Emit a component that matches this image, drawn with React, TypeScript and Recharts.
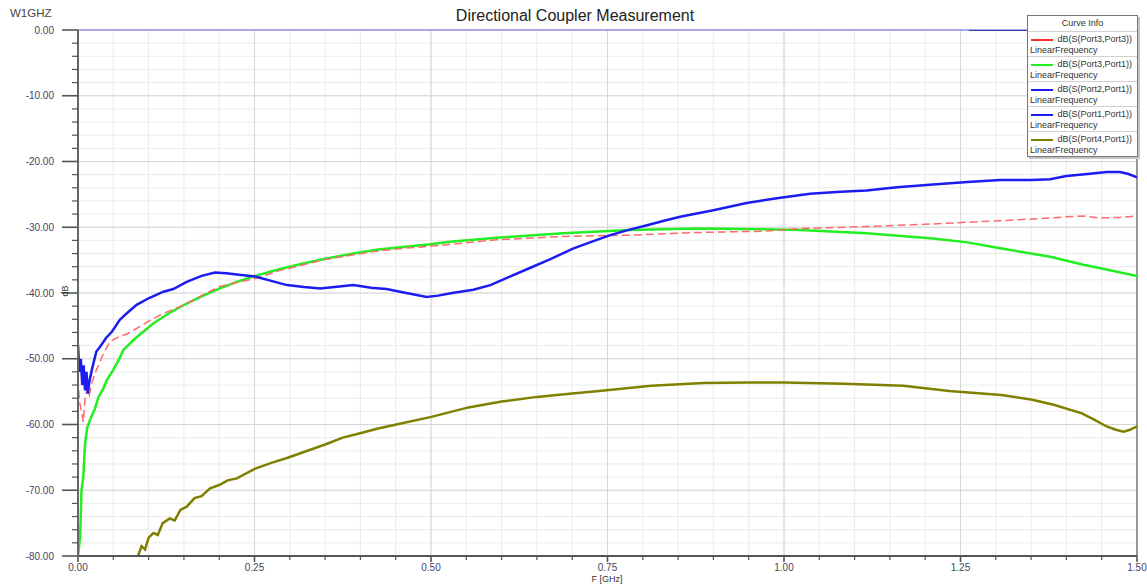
import React from 'react';
import { LineChart, Line, XAxis, YAxis, CartesianGrid, ReferenceLine, Legend } from 'recharts';

// ---------- data ----------
const s33Freq = [0.000, 0.002, 0.005, 0.0075, 0.010, 0.013, 0.016, 0.020, 0.026, 0.035, 0.045, 0.059, 0.070, 0.083, 0.100, 0.121, 0.135, 0.154, 0.175, 0.201, 0.225, 0.251, 0.285, 0.319, 0.350, 0.390, 0.425, 0.461, 0.499, 0.527, 0.593, 0.687, 0.782, 0.876, 0.971, 1.023, 1.117, 1.211, 1.306, 1.377, 1.400, 1.425, 1.448, 1.475, 1.500];
const s33Db = [-53.0, -56.5, -58.0, -59.6, -56.0, -54.5, -55.5, -53.5, -51.7, -49.5, -47.4, -46.6, -46.2, -45.4, -44.3, -43.1, -42.5, -41.6, -40.4, -39.0, -38.4, -37.8, -36.6, -35.7, -34.9, -34.2, -33.6, -33.2, -32.9, -32.6, -31.9, -31.4, -31.2, -30.8, -30.6, -30.2, -29.9, -29.5, -29.0, -28.6, -28.4, -28.3, -28.6, -28.5, -28.3];

const s31Freq = [0.000, 0.003, 0.005, 0.0075, 0.010, 0.013, 0.018, 0.024, 0.029, 0.036, 0.041, 0.050, 0.059, 0.064, 0.080, 0.107, 0.130, 0.154, 0.175, 0.201, 0.225, 0.251, 0.285, 0.319, 0.350, 0.390, 0.425, 0.461, 0.499, 0.527, 0.593, 0.687, 0.782, 0.876, 0.971, 1.023, 1.060, 1.117, 1.211, 1.260, 1.306, 1.377, 1.424, 1.460, 1.500];
const s31Db = [-80.0, -77.0, -70.0, -67.9, -63.0, -60.5, -59.0, -57.6, -55.8, -54.5, -53.2, -51.7, -49.9, -48.7, -47.0, -44.6, -43.0, -41.6, -40.5, -39.3, -38.3, -37.4, -36.4, -35.5, -34.8, -34.0, -33.4, -33.0, -32.6, -32.2, -31.6, -30.9, -30.4, -30.2, -30.3, -30.4, -30.6, -30.9, -31.7, -32.3, -33.2, -34.5, -35.7, -36.5, -37.4];

const s21Freq = [0.000, 0.002, 0.004, 0.006, 0.008, 0.010, 0.012, 0.014, 0.016, 0.020, 0.026, 0.031, 0.040, 0.048, 0.059, 0.070, 0.083, 0.100, 0.121, 0.135, 0.154, 0.175, 0.194, 0.210, 0.225, 0.251, 0.275, 0.296, 0.320, 0.343, 0.370, 0.390, 0.415, 0.437, 0.465, 0.494, 0.510, 0.530, 0.560, 0.584, 0.610, 0.640, 0.670, 0.702, 0.730, 0.754, 0.780, 0.806, 0.830, 0.853, 0.900, 0.947, 0.990, 1.037, 1.080, 1.117, 1.160, 1.211, 1.260, 1.306, 1.350, 1.377, 1.400, 1.430, 1.457, 1.476, 1.488, 1.500];
const s21Db = [-47.9, -52.0, -50.0, -54.0, -51.0, -54.8, -52.0, -55.3, -53.5, -51.5, -48.9, -48.2, -46.8, -45.9, -44.1, -43.0, -41.8, -40.8, -39.8, -39.4, -38.3, -37.4, -36.9, -37.0, -37.2, -37.5, -38.2, -38.8, -39.1, -39.3, -39.0, -38.8, -39.2, -39.4, -40.0, -40.6, -40.4, -40.0, -39.5, -38.8, -37.6, -36.2, -34.8, -33.2, -32.1, -31.2, -30.4, -29.7, -29.0, -28.4, -27.4, -26.3, -25.6, -24.9, -24.6, -24.4, -23.9, -23.5, -23.1, -22.8, -22.8, -22.7, -22.2, -21.9, -21.6, -21.6, -21.9, -22.4];

const s11Freq = [1.262, 1.500];
const s11Db = [0.0, 0.0];

const s41Freq = [0.085, 0.090, 0.095, 0.100, 0.107, 0.113, 0.120, 0.130, 0.137, 0.145, 0.154, 0.165, 0.175, 0.187, 0.200, 0.212, 0.225, 0.251, 0.275, 0.296, 0.325, 0.351, 0.375, 0.401, 0.425, 0.451, 0.502, 0.553, 0.600, 0.650, 0.700, 0.738, 0.812, 0.886, 0.950, 1.000, 1.085, 1.169, 1.234, 1.308, 1.350, 1.382, 1.422, 1.440, 1.457, 1.470, 1.481, 1.490, 1.500];
const s41Db = [-80.0, -78.5, -79.0, -77.2, -76.5, -76.8, -75.0, -74.3, -74.6, -73.0, -72.5, -71.2, -70.9, -69.7, -69.2, -68.5, -68.2, -66.7, -65.8, -65.1, -64.0, -63.0, -62.0, -61.3, -60.6, -60.0, -58.8, -57.4, -56.5, -55.8, -55.3, -54.9, -54.1, -53.7, -53.6, -53.6, -53.8, -54.1, -54.9, -55.5, -56.2, -57.0, -58.3, -59.3, -60.3, -60.8, -61.1, -60.8, -60.3];

const legendNames = ['dB(S(Port3,Port3))', 'dB(S(Port3,Port1))', 'dB(S(Port2,Port1))', 'dB(S(Port1,Port1))', 'dB(S(Port4,Port1))'];
const legendSub = 'LinearFrequency';
const legendColors = ['#ff2a2a', '#22ee22', '#1c1cf0', '#1c1cf0', '#808000'];

const xMajorTicks = [0, 0.25, 0.5, 0.75, 1.0, 1.25, 1.5];
const yMajorTicks = [0, -10, -20, -30, -40, -50, -60, -70, -80];
const xMinorStep = 0.05;
const yMinorStep = 2;

const titleText = 'Directional Coupler Measurement';
const cornerText = 'W1GHZ';
const xLabel = 'F [GHz]';
const yLabel = 'dB';

// ---------- helpers ----------
const zip = (f: number[], v: number[]) => f.map((x, i) => ({ f: x, v: v[i] }));
const xTicks: number[] = [];
for (let i = 0; i <= 30; i++) xTicks.push(Math.round(i * xMinorStep * 1000) / 1000);
const yTicks: number[] = [];
for (let i = 0; i <= 40; i++) yTicks.push(-i * yMinorStep);

const FONT = '"Liberation Sans", Arial, sans-serif';
const TICK_COLOR = '#45455f';

const isMajorX = (v: number) => xMajorTicks.some((t) => Math.abs(t - v) < 1e-6);
const isMajorY = (v: number) => yMajorTicks.some((t) => Math.abs(t - v) < 1e-6);

const YTick = (props: any) => {
  const { x, y, payload } = props;
  const v = payload.value as number;
  const major = isMajorY(v);
  return (
    <g>
      <line x1={x - (major ? 16 : 6)} x2={x} y1={y} y2={y} stroke="#555" strokeWidth={major ? 1.6 : 1.2} />
      {major && (
        <text x={x - 24} y={y} dy={3.5} textAnchor="end" fontSize={10} fill={TICK_COLOR} fontFamily={FONT}>
          {v.toFixed(2)}
        </text>
      )}
    </g>
  );
};

const XTick = (props: any) => {
  const { x, y, payload } = props;
  const v = payload.value as number;
  const major = isMajorX(v);
  return (
    <g>
      <line x1={x} x2={x} y1={y} y2={y + (major ? 6 : 4)} stroke="#555" strokeWidth={major ? 1.6 : 1.2} />
      {major && (
        <text x={x} y={y + 15} textAnchor="middle" fontSize={10} fill={TICK_COLOR} fontFamily={FONT}>
          {v.toFixed(2)}
        </text>
      )}
    </g>
  );
};

const LegendBox = () => (
  <div
    style={{
      width: 111,
      height: 142,
      border: '1px solid #777',
      background: '#fff',
      boxShadow: '2px 2px 0 #c4c4c4',
      fontFamily: FONT,
      fontSize: 9,
      color: '#333',
      boxSizing: 'border-box',
    }}
  >
    <div style={{ height: 15, lineHeight: '15px', textAlign: 'center', borderBottom: '1px solid #d0d0d0' }}>Curve Info</div>
    {legendNames.map((n, i) => (
      <div
        key={n}
        style={{
          position: 'relative',
          height: 25,
          borderBottom: i < legendNames.length - 1 ? '1px solid #d0d0d0' : 'none',
          boxSizing: 'border-box',
        }}
      >
        <div style={{ position: 'absolute', left: 3, top: 7, width: 22, height: 2, background: legendColors[i] }} />
        <div style={{ position: 'absolute', right: 5, top: 2, lineHeight: '10px', whiteSpace: 'nowrap' }}>{n}</div>
        <div style={{ position: 'absolute', left: 2, top: 13, lineHeight: '10px', whiteSpace: 'nowrap' }}>{legendSub}</div>
      </div>
    ))}
  </div>
);

export default function App() {
  return (
    <div style={{ position: 'absolute', left: 0, top: 0, width: 1147, height: 588, background: '#fff', overflow: 'hidden' }}>
      <div style={{ position: 'absolute', left: 0, top: 7, width: 1150, textAlign: 'center', fontFamily: FONT, fontSize: 16, color: '#222', zIndex: 2 }}>
        {titleText}
      </div>
      <div style={{ position: 'absolute', left: 10, top: 7, fontFamily: FONT, fontSize: 11.5, color: '#444', zIndex: 2 }}>{cornerText}</div>
      <div
        style={{
          position: 'absolute',
          left: 58,
          top: 286,
          width: 14,
          textAlign: 'center',
          transform: 'rotate(-90deg)',
          fontFamily: FONT,
          fontSize: 9,
          color: '#333',
          zIndex: 2,
        }}
      >
        {yLabel}
      </div>
      <div style={{ position: 'absolute', left: 557, top: 574, width: 100, textAlign: 'center', fontFamily: FONT, fontSize: 9, color: '#333', zIndex: 2 }}>
        {xLabel}
      </div>
      <LineChart width={1147} height={588} margin={{ top: 30, right: 10, bottom: 0, left: 0 }}>
        <CartesianGrid stroke="#ebebeb" strokeWidth={1} />
        {xMajorTicks.slice(1, -1).map((t) => (
          <ReferenceLine key={'vx' + t} x={t} stroke="#d6d6d6" strokeWidth={1} />
        ))}
        {yMajorTicks.slice(1, -1).map((t) => (
          <ReferenceLine key={'hy' + t} y={t} stroke="#d6d6d6" strokeWidth={1} />
        ))}
        <ReferenceLine y={0} stroke="#a9a9e6" strokeWidth={2} />
        <ReferenceLine x={1.5} stroke="#777" strokeWidth={1.5} />
        <XAxis
          dataKey="f"
          type="number"
          domain={[0, 1.5]}
          ticks={xTicks}
          interval={0}
          allowDataOverflow
          height={32}
          tickSize={0}
          tickMargin={0}
          tickLine={false}
          axisLine={{ stroke: '#555', strokeWidth: 2 }}
          tick={<XTick />}
        />
        <YAxis
          type="number"
          domain={[-80, 0]}
          ticks={yTicks}
          interval={0}
          allowDataOverflow
          width={78}
          tickSize={0}
          tickMargin={0}
          tickLine={false}
          axisLine={{ stroke: '#666', strokeWidth: 2 }}
          tick={<YTick />}
        />
        <Legend
          layout="vertical"
          align="center"
          verticalAlign="middle"
          content={() => <LegendBox />}
          wrapperStyle={{ position: 'absolute', left: 1027, top: 15, width: 111, height: 142, margin: 0 }}
        />
        <Line data={zip(s41Freq, s41Db)} dataKey="v" type="linear" stroke="#808000" strokeWidth={2.5} dot={false} isAnimationActive={false} />
        <Line data={zip(s31Freq, s31Db)} dataKey="v" type="linear" stroke="#22ee22" strokeWidth={2.5} dot={false} isAnimationActive={false} />
        <Line data={zip(s33Freq, s33Db)} dataKey="v" type="linear" stroke="#ff6a6a" strokeWidth={1.5} strokeDasharray="8 4" dot={false} isAnimationActive={false} />
        <Line data={zip(s21Freq, s21Db)} dataKey="v" type="linear" stroke="#1c1cf0" strokeWidth={2.5} dot={false} isAnimationActive={false} />
        <Line data={zip(s11Freq, s11Db)} dataKey="v" type="linear" stroke="#3b3ba8" strokeWidth={2} dot={false} isAnimationActive={false} />
      </LineChart>
    </div>
  );
}
